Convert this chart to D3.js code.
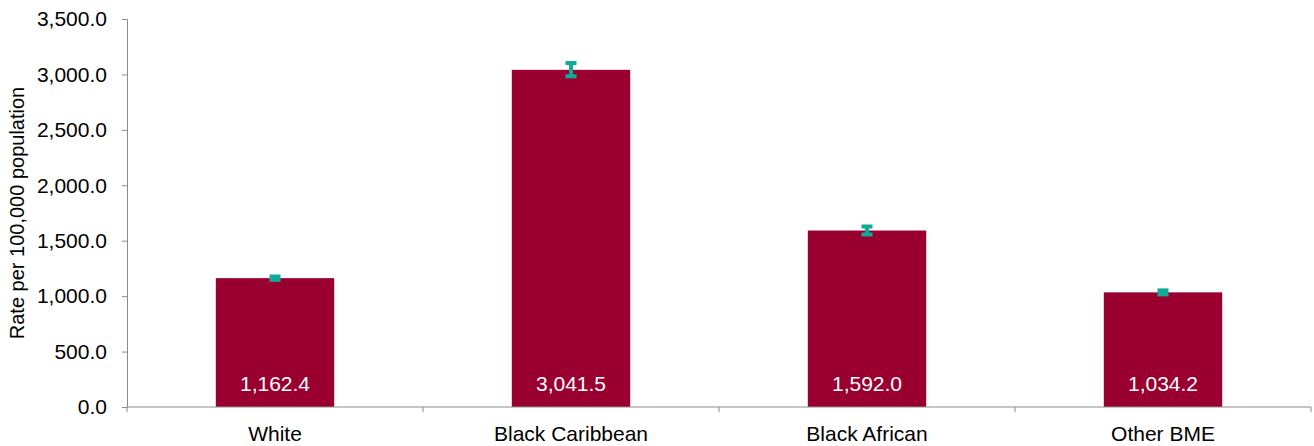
<!DOCTYPE html>
<html><head><meta charset="utf-8">
<script src="https://cdn.jsdelivr.net/npm/d3@7"></script>
<style>body{margin:0;background:#fff}svg{display:block}text{font-family:"Liberation Sans",Arial,sans-serif}</style>
</head><body><svg id="c" width="1314" height="446"></svg>
<script>
const categories = ["White", "Black Caribbean", "Black African", "Other BME"];
const rates = [1162.4, 3041.5, 1592.0, 1034.2];
const lowerCI = [1147, 2983, 1556, 1016];
const upperCI = [1177, 3103, 1628, 1052];
const yTicks = [0, 500, 1000, 1500, 2000, 2500, 3000, 3500];
const yTitle = "Rate per 100,000 population";

const svg = d3.select("#c");
const m = {left:127, right:3, top:19, bottom:39};
const W = 1314, H = 446;
const FS = 21;
const x = d3.scaleBand().domain(categories).range([m.left, W - m.right]).paddingInner(0.6).paddingOuter(0.3);
const xb = d3.scaleBand().domain(categories).range([m.left, W - m.right]);
const y = d3.scaleLinear().domain([0, 3500]).range([H - m.bottom, m.top]);
const fmt = d3.format(",.1f");
const axisCol = "#8c8c8c";

// bars
svg.selectAll("rect.bar").data(categories).join("rect")
  .attr("x", d => x(d)).attr("width", x.bandwidth())
  .attr("y", (d,i) => y(rates[i])).attr("height", (d,i) => y(0) - y(rates[i]))
  .attr("fill", "#990030");

// data labels
svg.selectAll("text.lab").data(categories).join("text")
  .attr("x", d => x(d) + x.bandwidth()/2).attr("y", y(0) - 16)
  .attr("text-anchor", "middle").attr("fill", "#fff").attr("font-size", FS)
  .text((d,i) => fmt(rates[i]));

// error bars
const eb = svg.append("g").attr("stroke", "#10aa99").attr("fill", "none");
categories.forEach((c, i) => {
  const cx = x(c) + x.bandwidth()/2;
  eb.append("line").attr("x1", cx).attr("x2", cx).attr("y1", y(lowerCI[i])).attr("y2", y(upperCI[i])).attr("stroke-width", 4);
  [lowerCI[i], upperCI[i]].forEach(v => {
    eb.append("line").attr("x1", cx - 5.5).attr("x2", cx + 5.5).attr("y1", y(v)).attr("y2", y(v)).attr("stroke-width", 4);
  });
});

// y axis
const ya = svg.append("g").attr("transform", `translate(${m.left},0)`)
  .call(d3.axisLeft(y).tickValues(yTicks).tickFormat(fmt).tickSizeOuter(0).tickSize(5));
ya.select(".domain").attr("stroke", axisCol);
ya.selectAll(".tick line").attr("stroke", axisCol);
ya.selectAll(".tick text").attr("font-size", FS).attr("fill", "#000").attr("x", -20).attr("font-family", '"Liberation Sans",Arial,sans-serif');

// x axis
const xa = svg.append("g").attr("transform", `translate(0,${y(0)})`);
xa.append("line").attr("x1", m.left).attr("x2", W - m.right).attr("stroke", axisCol);
const bounds = categories.map(c => xb(c)).concat([W - m.right]);
xa.selectAll("line.tk").data(bounds).join("line")
  .attr("x1", d => d).attr("x2", d => d).attr("y1", 0).attr("y2", 5).attr("stroke", axisCol);
xa.selectAll("text").data(categories).join("text")
  .attr("x", d => x(d) + x.bandwidth()/2).attr("y", 34)
  .attr("text-anchor", "middle").attr("font-size", FS).attr("fill", "#000")
  .text(d => d);

// y title
svg.append("text").attr("transform", `translate(24,${(y(0)+y(3500))/2}) rotate(-90)`)
  .attr("text-anchor", "middle").attr("font-size", 20).attr("fill", "#000").text(yTitle);
</script></body></html>
